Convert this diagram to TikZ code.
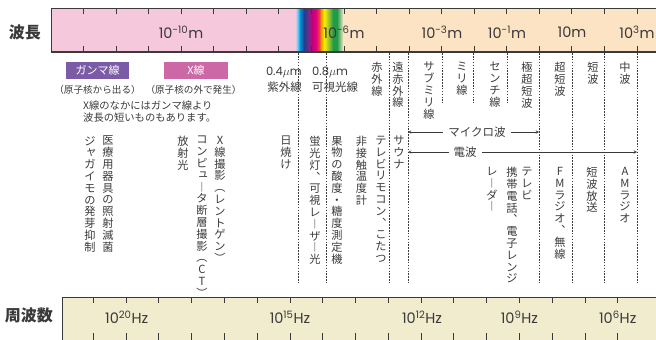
\documentclass[tikz,border=0pt]{standalone}
\usepackage{fontspec}
\setmainfont{Noto Sans CJK JP}
\newfontfamily\numfont{Poppins}

\definecolor{ink}{HTML}{3A3A3A}
\definecolor{barpink}{HTML}{F6C8DC}
\definecolor{barpeach}{HTML}{FCE3C3}
\definecolor{barbeige}{HTML}{F2ECCF}
\definecolor{gammabox}{HTML}{7B5BA6}
\definecolor{xraybox}{HTML}{CC68A6}
\definecolor{specCyan}{HTML}{8CCFEF}
\definecolor{specBlue}{HTML}{0091D6}
\definecolor{specNavy}{HTML}{213E90}
\definecolor{specPurple}{HTML}{6A2C8C}
\definecolor{specMagenta}{HTML}{C4007C}
\definecolor{specPink}{HTML}{E4007F}
\definecolor{specRed}{HTML}{E8423A}
\definecolor{specOrange}{HTML}{F39800}
\definecolor{specYellow}{HTML}{FFEE00}
\definecolor{specLime}{HTML}{A6CA2A}
\definecolor{specGreen}{HTML}{1E9C48}

% Small kana sit up and to the right in a column.
\newcommand{\tatesmall}[1]{\hspace*{0.2em}\raisebox{0.12em}{#1}}

% Stack a string one character per line, with column forms.
\ExplSyntaxOn
\seq_new:N \l_tate_chars_seq
\NewDocumentCommand \tatekaki { m }
  {
    \seq_clear:N \l_tate_chars_seq
    \tl_map_inline:nn {#1}
      {
        \seq_put_right:Nn \l_tate_chars_seq
          {
            \str_case:nnF {##1}
              {
                {ー}{︱}
                {（}{︵}
                {）}{︶}
                {、}{︑}
                {ャ}{\tatesmall{ャ}}
                {ュ}{\tatesmall{ュ}}
              }
              {##1}
          }
      }
    \seq_use:Nn \l_tate_chars_seq { \\ }
  }
\ExplSyntaxOff

\begin{document}
\begin{tikzpicture}[%
        x = 1pt,
        y = -1pt,
        > = stealth,
        bandline/.style = {%
            draw = ink,
            line width = 0.8pt
        },
        tickline/.style = {%
            draw = ink,
            line width = 0.8pt
        },
        sepline/.style = {%
            draw = ink,
            line width = 0.6pt,
            dash pattern = on 1.6pt off 1.3pt
        },
        waveline/.style = {%
            draw = ink,
            line width = 0.5pt,
            <->
        },
        scalelabel/.style = {%
            font = \numfont\fontsize{14.5}{14.5}\selectfont,
            text = ink
        },
        yoko/.style = {%
            font = \fontsize{11.5}{12}\selectfont,
            text = ink,
            inner sep = 0pt
        },
        tate/.style = {%
            anchor = north,
            align = center,
            inner sep = 0pt,
            font = \fontsize{11.2}{11.8}\selectfont,
            text = ink
        },
        raytag/.style = {%
            minimum width = 63pt,
            minimum height = 17pt,
            inner sep = 0pt,
            text = white,
            font = \fontsize{11}{12}\selectfont
        }
    ]

        \useasboundingbox (0,0) rectangle (656,340);

        % Wavelength band: pink, the visible spectrum, then peach.
        \fill[barpink] (51,8) rectangle (295.3,52);
        \foreach \xa/\xb/\ca/\cb in {%
                295/297/barpink/specCyan, 297/300/specCyan/specBlue,
                300/304/specBlue/specNavy, 304/308/specNavy/specPurple,
                308/312/specPurple/specMagenta, 312/316/specMagenta/specPink,
                316/319/specPink/specRed, 319/321/specRed/specOrange,
                321/324/specOrange/specYellow, 324/328/specYellow/specLime,
                328/333/specLime/specGreen, 333/337/specGreen/specGreen,
                337/343/specGreen/barpeach}
            \shade[left color = \ca, right color = \cb] (\xa,8) rectangle (\xb+0.3,52);
        \fill[barpeach] (343,8) rectangle (656,52);
        \draw[bandline] (656,8) -- (51,8) -- (51,52);
        \draw[bandline, line width = 1.4pt] (51,52) -- (656,52);
        \foreach \k in {1,...,18} {
            \draw[tickline] ({51+32.55*\k},8) -- ++(0,6);
            \draw[tickline] ({51+32.55*\k},52) -- ++(0,-6);
        }

        % Frequency band.
        \fill[barbeige] (62,297) rectangle (656,340);
        \draw[bandline] (656,297) -- (62,297) -- (62,340);
        \foreach \k in {0,...,16} {
            \draw[tickline] ({93.3+32.78*\k},297) -- ++(0,6);
            \draw[tickline] ({93.3+32.78*\k},340) -- ++(0,-7);
        }

        % Band titles and scale values.
        \node[font = \bfseries\fontsize{16}{16}\selectfont, text = ink] (hacho) at (25,32) {波長};
        \node[font = \bfseries\fontsize{16}{16}\selectfont, text = ink] (shuhasu) at (29,315) {周波数};
        \node[scalelabel] (wlgamma) at (181,32) {10\textsuperscript{-10}m};
        \node[scalelabel] (wlvis) at (344,32) {10\textsuperscript{-6}m};
        \node[scalelabel] (wlmm) at (442,32) {10\textsuperscript{-3}m};
        \node[scalelabel] (wlcm) at (507,32) {10\textsuperscript{-1}m};
        \node[scalelabel] (wlten) at (572,32) {10m};
        \node[scalelabel] (wlkm) at (637,32) {10\textsuperscript{3}m};
        \node[scalelabel] (fqgamma) at (126.7,317) {10\textsuperscript{20}Hz};
        \node[scalelabel] (fquv) at (290,317) {10\textsuperscript{15}Hz};
        \node[scalelabel] (fqir) at (422,317) {10\textsuperscript{12}Hz};
        \node[scalelabel] (fqghz) at (519.4,317) {10\textsuperscript{9}Hz};
        \node[scalelabel] (fqmhz) at (617.7,317) {10\textsuperscript{6}Hz};

        % Dashed borders between the bands of radiation.
        \foreach \x/\yend in {298/283, 326.5/283, 389/283, 408/283, 442/103,
                473/103, 507/103, 539/283, 572/283, 604/283, 637/283}
            \draw[sepline] (\x,53) -- (\x,\yend);

        % Gamma rays and X rays.
        \node[raytag, fill = gammabox] (gamma) at (97.5,70.5) {ガンマ線};
        \node[raytag, fill = xraybox, minimum width = 64pt] (xray) at (196,70.5) {X線};
        \node[yoko, font = \fontsize{9.6}{12}\selectfont] (gammanote) at (97.5,90) {（原子核から出る）};
        \node[yoko, font = \fontsize{9.6}{12}\selectfont] (xraynote) at (193.5,90) {（原子核の外で発生）};
        \node[yoko, font = \fontsize{10.3}{11.5}\selectfont, anchor = north west, align = left]
            (overlap) at (83,101) {X線のなかにはガンマ線より\\波長の短いものもあります。};

        % Ultraviolet and visible light.
        \node[yoko, anchor = east] (uvlen) at (302,72) {\numfont 0.4$\mu$m};
        \node[yoko, anchor = east] (uv) at (302,87) {紫外線};
        \node[yoko, anchor = west] (vislen) at (312,72) {\numfont 0.8$\mu$m};
        \node[yoko, anchor = west] (vis) at (312,87) {可視光線};

        % Names of the bands, written downwards.
        \node[tate] (ir) at (377,62) {\tatekaki{赤外線}};
        \node[tate] (fir) at (398,62) {\tatekaki{遠赤外線}};
        \node[tate] (submm) at (429,62) {\tatekaki{サブミリ線}};
        \node[tate] (mm) at (462,62) {\tatekaki{ミリ線}};
        \node[tate] (cm) at (495,62) {\tatekaki{センチ線}};
        \node[tate] (uhf) at (527,62) {\tatekaki{極超短波}};
        \node[tate] (vhf) at (560,62) {\tatekaki{超短波}};
        \node[tate] (hf) at (593,62) {\tatekaki{短波}};
        \node[tate] (mf) at (625,62) {\tatekaki{中波}};

        % Uses of each band.
        \node[tate] (potato) at (90,136) {\tatekaki{ジャガイモの発芽抑制}};
        \node[tate] (steril) at (108,136) {\tatekaki{医療用器具の照射滅菌}};
        \node[tate] (synchro) at (183,136) {\tatekaki{放射光}};
        \node[tate] (ctscan) at (202,136) {\tatekaki{コンピュータ断層撮影（CT）}};
        \node[tate] (xphoto) at (220,136) {\tatekaki{X線撮影（レントゲン）}};
        \node[tate] (tan) at (286,136) {\tatekaki{日焼け}};
        \node[tate] (lamp) at (315,136) {\tatekaki{蛍光灯、可視レーザー光}};
        \node[tate] (fruit) at (337,136) {\tatekaki{果物の酸度・糖度測定機}};
        \node[tate] (thermo) at (361.5,136) {\tatekaki{非接触温度計}};
        \node[tate] (remote) at (381,136) {\tatekaki{テレビリモコン、こたつ}};
        \node[tate] (sauna) at (399,136) {\tatekaki{サウナ}};
        \node[tate] (radar) at (492,167) {\tatekaki{レーダー}};
        \node[tate] (phone) at (512,167) {\tatekaki{携帯電話、電子レンジ}};
        \node[tate] (tv) at (527,167) {\tatekaki{テレビ}};
        \node[tate] (fmradio) at (560,167) {\tatekaki{FMラジオ、無線}};
        \node[tate] (shortwave) at (592,167) {\tatekaki{短波放送}};
        \node[tate] (amradio) at (625,167) {\tatekaki{AMラジオ}};

        % Microwaves and radio waves.
        \coordinate (mwleft) at (408,132);
        \coordinate (mwright) at (539,132);
        \coordinate (rwleft) at (408,152);
        \coordinate (rwright) at (637,152);
        \draw[waveline] (mwleft) -- (mwright)
            node[yoko, pos = 0.527, fill = white, inner xsep = 5pt, inner ysep = 1pt] (micro) {マイクロ波};
        \draw[waveline] (rwleft) -- (rwright)
            node[yoko, pos = 0.249, fill = white, inner xsep = 5pt, inner ysep = 1pt] (radio) {電波};
    \end{tikzpicture}
\end{document}
